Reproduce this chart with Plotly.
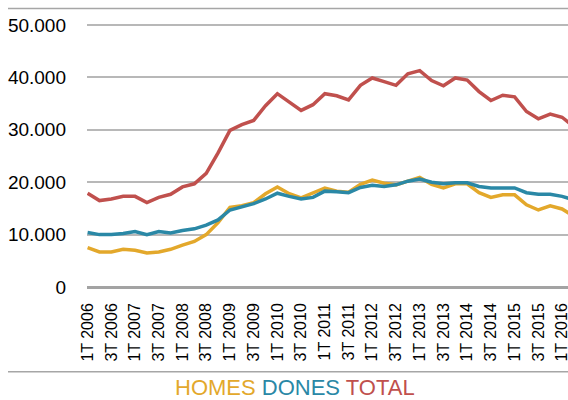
import plotly.graph_objects as go

quarters = []
for yr in range(2006, 2017):
    for q in range(1, 5):
        quarters.append(f"{q}T {yr}")
quarters = quarters[:42]  # 1T 2006 .. 2T 2016

homes = [7.5, 6.7, 6.7, 7.2, 7.0, 6.5, 6.7, 7.2, 8.0, 8.7,
         10.0, 12.3, 15.2, 15.5, 16.1, 17.8, 19.1, 17.8, 17.0, 18.0,
         18.9, 18.3, 18.1, 19.6, 20.4, 19.8, 19.5, 20.2, 20.9, 19.6,
         18.9, 19.7, 19.7, 18.0, 17.1, 17.6, 17.6, 15.7, 14.7, 15.5,
         14.9, 13.5]
dones = [10.4, 10.0, 10.0, 10.2, 10.6, 10.0, 10.6, 10.3, 10.8, 11.1,
         11.8, 12.8, 14.7, 15.3, 15.9, 16.8, 17.9, 17.3, 16.8, 17.1,
         18.3, 18.2, 18.0, 19.0, 19.4, 19.2, 19.5, 20.2, 20.6, 20.0,
         19.7, 19.9, 19.9, 19.2, 18.9, 18.9, 18.9, 18.0, 17.7, 17.7,
         17.3, 16.6]
total = [17.9, 16.5, 16.8, 17.3, 17.3, 16.1, 17.1, 17.7, 19.1, 19.7,
         21.7, 25.6, 29.9, 31.0, 31.8, 34.6, 36.9, 35.3, 33.7, 34.8,
         36.9, 36.5, 35.7, 38.5, 39.9, 39.2, 38.5, 40.7, 41.3, 39.4,
         38.4, 39.9, 39.5, 37.3, 35.6, 36.6, 36.3, 33.5, 32.1, 33.0,
         32.4, 30.6]
homes = [v * 1000 for v in homes]
dones = [v * 1000 for v in dones]
total = [v * 1000 for v in total]

tick_labels = [q for q in quarters if q.startswith("1T") or q.startswith("3T")]
y_ticks = [0, 10000, 20000, 30000, 40000, 50000]

series_names = ["HOMES", "DONES", "TOTAL"]
colors = ["#E3A82B", "#2A88A6", "#C0504D"]

FONT = "Liberation Sans, Arial, sans-serif"

fig = go.Figure()
for name, vals, col in zip(series_names, [homes, dones, total], colors):
    fig.add_trace(go.Scatter(x=quarters, y=vals, mode="lines", name=name,
                             line=dict(color=col, width=3.5), showlegend=False))

fig.update_layout(
    width=568, height=400,
    margin=dict(l=87, r=0, t=24, b=113),
    paper_bgcolor="white", plot_bgcolor="white",
    separators=",.",
    font=dict(family=FONT, color="#000000"),
)
fig.update_xaxes(
    type="category", range=[-0.05, 40.5], automargin=False,
    tickmode="array", tickvals=tick_labels, ticktext=tick_labels,
    tickangle=-90, tickfont=dict(size=16, family=FONT, color="#000"),
    showgrid=False, showline=False, zeroline=False, ticks="",
    ticklabelstandoff=12,
)
fig.update_yaxes(
    range=[0, 50200], tickmode="array", tickvals=y_ticks, automargin=False,
    tickformat=",d", tickfont=dict(size=19, family=FONT, color="#000"),
    showgrid=True, gridcolor="#B8B8B8", gridwidth=1.5,
    zeroline=True, zerolinecolor="#A3A3A3", zerolinewidth=2.5,
    showline=False, ticks="", ticklabelstandoff=20,
)

# separator lines above and below
fig.add_shape(type="line", xref="paper", yref="paper",
              x0=(8 - 87) / 481, x1=1.0, y0=(287 - 8.5) / 263, y1=(287 - 8.5) / 263,
              line=dict(color="#A6A6A6", width=1.5))
fig.add_shape(type="line", xref="paper", yref="paper",
              x0=(8 - 87) / 481, x1=1.0, y0=(287 - 371.7) / 263, y1=(287 - 371.7) / 263,
              line=dict(color="#A6A6A6", width=1.5))

legend_text = " ".join(f"<span style='color:{c}'>{n}</span>" for n, c in zip(series_names, colors))
fig.add_annotation(text=legend_text, xref="paper", yref="paper",
                   x=(294.5 - 87) / 481, y=(287 - 373) / 263,
                   xanchor="center", yanchor="top", showarrow=False,
                   font=dict(size=22, family=FONT))

# clipped title (only descender visible)
fig.add_annotation(text="p", xref="paper", yref="paper",
                   x=(359 - 87) / 481, y=(287 - 7) / 263, yshift=8,
                   xanchor="center", yanchor="bottom", showarrow=False,
                   font=dict(size=24, family=FONT, color="#222"))

fig.write_html("out.html", config={"displayModeBar": False},
               post_script="document.body.style.margin='0';")
